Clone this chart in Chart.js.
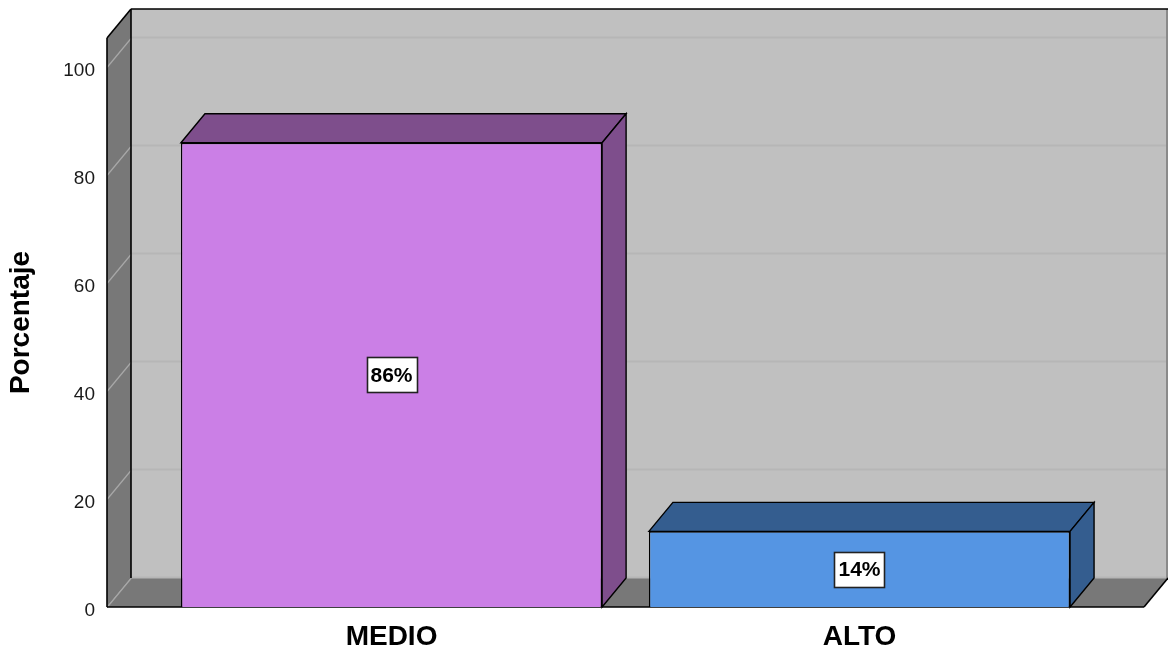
<!DOCTYPE html>
<html>
<head>
<meta charset="utf-8">
<script src="https://cdn.jsdelivr.net/npm/chart.js@4.4.1/dist/chart.umd.min.js"></script>
<style>
  html, body { margin: 0; padding: 0; background: #ffffff; }
  #wrap { width: 1168px; height: 650px; }
</style>
</head>
<body>
<div id="wrap"><canvas id="c" width="1168" height="650"></canvas></div>
<script>
// ---- data ----
const categories = ['MEDIO', 'ALTO'];
const percentages = [86, 14];
const yTickValues = [0, 20, 40, 60, 80, 100];
const yAxisTitle = 'Porcentaje';

// ---- styles ----
const frontColors = ['#cb7fe6', '#5595e3'];
const shadeColors = ['#7e4e8c', '#345d8f'];
const DX = 24, DY = -29;
const FONT = "'Liberation Sans', Arial, Helvetica, sans-serif";

function poly(ctx, pts, fill, stroke, lw) {
  ctx.beginPath();
  ctx.moveTo(pts[0][0], pts[0][1]);
  for (let i = 1; i < pts.length; i++) ctx.lineTo(pts[i][0], pts[i][1]);
  ctx.closePath();
  if (fill) { ctx.fillStyle = fill; ctx.fill(); }
  if (stroke) { ctx.strokeStyle = stroke; ctx.lineWidth = lw || 1; ctx.stroke(); }
}
function line(ctx, x1, y1, x2, y2, color, lw) {
  ctx.beginPath();
  ctx.moveTo(x1, y1); ctx.lineTo(x2, y2);
  ctx.strokeStyle = color; ctx.lineWidth = lw; ctx.stroke();
}

const box3d = {
  id: 'box3d',
  beforeDatasetsDraw(chart) {
    const { ctx, chartArea: { left, right, top, bottom }, scales: { y } } = chart;
    ctx.save();
    // back wall
    ctx.fillStyle = '#c0c0c0';
    ctx.fillRect(left + DX, top + DY, right - left, bottom - top);
    // left wall
    poly(ctx, [[left, top], [left + DX, top + DY], [left + DX, bottom + DY], [left, bottom]], '#787878');
    // floor
    poly(ctx, [[left, bottom], [left + DX, bottom + DY], [right + DX, bottom + DY], [right, bottom]], '#787878');
    // grid lines
    y.ticks.forEach(t => {
      const py = Math.round(y.getPixelForValue(t.value)) + 0.5;
      line(ctx, left, py, left + DX, py + DY, '#a8a8a8', 1.2);
      line(ctx, left + DX, py + DY - 1, right + DX, py + DY - 1, '#b6b6b6', 2);
    });
    // outlines
    line(ctx, right + DX - 1, top + DY, right + DX - 1, bottom + DY, '#8a8a8a', 2);
    line(ctx, left, top, left, bottom, '#000', 1.6);
    line(ctx, left, top, left + DX, top + DY, '#000', 1.6);
    line(ctx, left + DX, top + DY, right + DX, top + DY, '#000', 1.6);
    line(ctx, left + DX, top + DY, left + DX, bottom + DY, '#000', 1.6);
    line(ctx, left, bottom, right, bottom, '#000', 1.6);
    line(ctx, right, bottom, right + DX, bottom + DY, '#000', 1.6);
    ctx.restore();
  },
  afterDatasetsDraw(chart) {
    const { ctx } = chart;
    const meta = chart.getDatasetMeta(0);
    ctx.save();
    meta.data.forEach((el, i) => {
      const { x, y, base, width } = el.getProps(['x', 'y', 'base', 'width'], true);
      const l = x - width / 2, r = x + width / 2;
      // top face
      poly(ctx, [[l, y], [l + DX, y + DY], [r + DX, y + DY], [r, y]], shadeColors[i], '#000', 1.4);
      // side face
      poly(ctx, [[r, y], [r + DX, y + DY], [r + DX, base + DY], [r, base]], shadeColors[i], '#000', 1.4);
      // value label
      const txt = percentages[i] + '%';
      ctx.font = 'bold 21px ' + FONT;
      const tw = ctx.measureText(txt).width;
      const bw = Math.round(tw + 8), bh = 35;
      const cy = (y + base) / 2;
      const bx = Math.round(x - bw / 2) + 0.5, by = Math.round(cy - bh / 2) + 0.5;
      ctx.fillStyle = '#ffffff';
      ctx.fillRect(bx, by, bw, bh);
      ctx.strokeStyle = '#222';
      ctx.lineWidth = 1.6;
      ctx.strokeRect(bx, by, bw, bh);
      ctx.fillStyle = '#000';
      ctx.textAlign = 'center';
      ctx.textBaseline = 'middle';
      ctx.fillText(txt, x, cy + 1);
    });
    ctx.restore();
  }
};

new Chart(document.getElementById('c'), {
  type: 'bar',
  data: {
    datasets: [{
      data: categories.map((c, i) => ({ x: i, y: percentages[i] })),
      backgroundColor: frontColors,
      borderColor: '#000',
      borderWidth: 1.4,
      borderSkipped: 'bottom',
      barPercentage: 0.9,
      categoryPercentage: 1.0
    }]
  },
  options: {
    responsive: false,
    devicePixelRatio: 1,
    animation: false,
    layout: { padding: { top: 38, right: 24, left: 0, bottom: 0 } },
    plugins: { legend: { display: false }, tooltip: { enabled: false } },
    scales: {
      x: {
        type: 'linear',
        offset: false,
        min: -0.608,
        max: 1.608,
        grid: { display: false, drawTicks: false, offset: false },
        border: { display: false },
        afterBuildTicks: (axis) => { axis.ticks = categories.map((c, i) => ({ value: i })); },
        afterFit: (axis) => { axis.height = 43; },
        ticks: {
          autoSkip: false,
          maxRotation: 0,
          padding: 13,
          color: '#000',
          font: { family: FONT, size: 28, weight: 'bold' },
          callback: (v) => categories[v]
        }
      },
      y: {
        min: 0,
        max: 105.4,
        grid: { display: false, drawTicks: false },
        border: { display: false },
        afterBuildTicks: (axis) => { axis.ticks = yTickValues.map(v => ({ value: v })); },
        afterFit: (axis) => { axis.width = 107; },
        ticks: {
          padding: 12,
          color: '#1a1a1a',
          font: { family: FONT, size: 19, lineHeight: '8px' },
          callback: (v) => [' ', String(v)]
        },
        title: {
          display: true,
          text: yAxisTitle,
          color: '#000',
          padding: { top: 4, bottom: 0 },
          font: { family: FONT, size: 28, weight: 'bold' }
        }
      }
    }
  },
  plugins: [box3d]
});
</script>
</body>
</html>
